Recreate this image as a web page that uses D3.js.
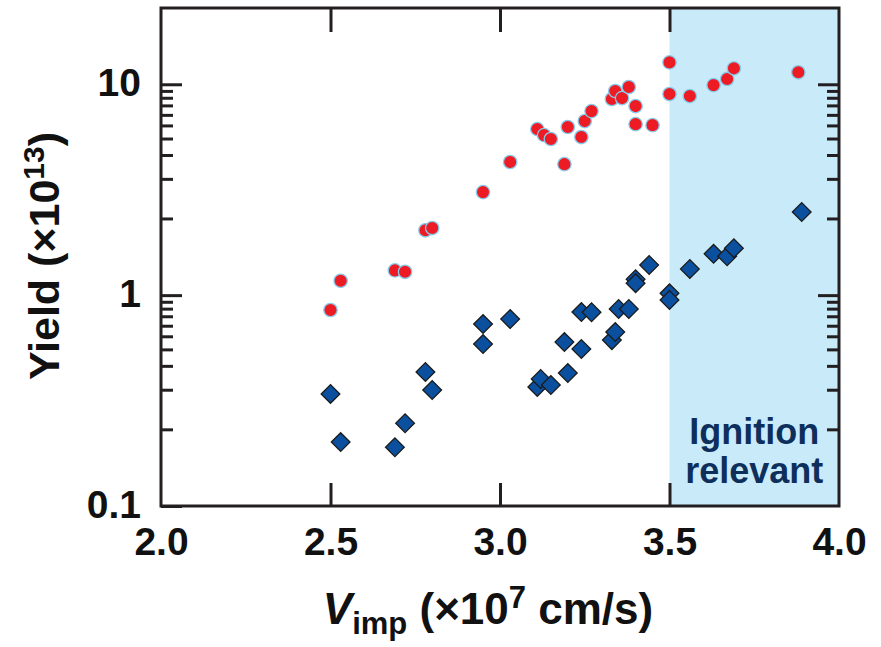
<!DOCTYPE html>
<html>
<head>
<meta charset="utf-8">
<script src="https://cdn.jsdelivr.net/npm/d3@7"></script>
<style>
  body { margin: 0; background: #fff; }
  svg { display: block; font-family: "Liberation Sans", Arial, Helvetica, sans-serif; }
</style>
</head>
<body>
<script>
// Data
const redV = [2.50, 2.53, 2.69, 2.72, 2.78, 2.80, 2.95, 3.03, 3.11, 3.13, 3.15, 3.19, 3.20, 3.24, 3.25, 3.27,
              3.33, 3.34, 3.36, 3.38, 3.40, 3.40, 3.45, 3.50, 3.50, 3.56, 3.63, 3.67, 3.69, 3.88]
const redYield = [0.85, 1.17, 1.31, 1.29, 2.03, 2.08, 3.08, 4.28, 6.13, 5.74, 5.50, 4.18, 6.27, 5.62, 6.69, 7.46,
                  8.51, 9.29, 8.60, 9.70, 7.88, 6.47, 6.40, 12.7, 8.99, 8.79, 9.91, 10.6, 11.9, 11.4]

const blueV = [2.50, 2.53, 2.69, 2.72, 2.78, 2.80, 2.95, 2.95, 3.03, 3.11, 3.12, 3.15, 3.19, 3.20, 3.24, 3.24,
               3.27, 3.33, 3.34, 3.35, 3.38, 3.40, 3.40, 3.44, 3.50, 3.50, 3.56, 3.63, 3.67, 3.69, 3.89]
const blueYield = [0.340, 0.201, 0.190, 0.247, 0.432, 0.355, 0.729, 0.586, 0.770, 0.367, 0.400, 0.375, 0.599, 0.427, 0.831, 0.555,
                   0.830, 0.612, 0.668, 0.859, 0.859, 1.19, 1.14, 1.39, 1.02, 0.948, 1.33, 1.57, 1.53, 1.67, 2.48]

const xTicks = [2.0, 2.5, 3.0, 3.5, 4.0]
const xInnerTicks = [2.5, 3.0, 3.5]
const yTicks = [0.1, 1, 10]
const yMinorTicks = [0.93, 0.863, 0.794, 0.716, 0.638, 0.553, 0.462, 0.356, 0.231,
                     9.3, 8.63, 7.94, 7.16, 6.38, 5.53, 4.62, 3.56, 2.31]
const ignitionStart = 3.5

// Layout
const W = 881, H = 647
const pLeft = 161, pRight = 839, pTop = 8, pBottom = 506
const ink = '#231f20'

const svg = d3.select('body').append('svg')
  .attr('width', W)
  .attr('height', H)

const x = d3.scaleLinear().domain([2.0, 4.0]).range([pLeft, pRight])
const y = d3.scaleLog().domain([0.1, 23]).range([pBottom, pTop])

// Ignition relevant band
svg.append('rect')
  .attr('x', x(ignitionStart))
  .attr('y', pTop)
  .attr('width', x(4.0) - x(ignitionStart))
  .attr('height', pBottom - pTop)
  .attr('fill', '#c9ebf9')

svg.append('text')
  .attr('x', (x(ignitionStart) + x(4.0)) / 2)
  .attr('y', 444)
  .attr('text-anchor', 'middle')
  .attr('font-size', 36)
  .attr('font-weight', 'bold')
  .attr('fill', '#0e2f5c')
  .selectAll('tspan')
  .data(['Ignition', 'relevant'])
  .join('tspan')
  .attr('x', (x(ignitionStart) + x(4.0)) / 2)
  .attr('dy', (d, i) => i === 0 ? 0 : 39)
  .text(d => d)

// Points
const blue = blueV.map((v, i) => ({ v: v, yld: blueYield[i] }))
const red = redV.map((v, i) => ({ v: v, yld: redYield[i] }))

svg.append('g').selectAll('path')
  .data(blue)
  .join('path')
  .attr('d', d3.symbol().type(d3.symbolSquare).size(175))
  .attr('transform', d => 'translate(' + x(d.v) + ',' + y(d.yld) + ') rotate(45)')
  .attr('fill', '#0b4f9f')
  .attr('stroke', '#1b1b1b')
  .attr('stroke-width', 1.3)

svg.append('g').selectAll('circle')
  .data(red)
  .join('circle')
  .attr('cx', d => x(d.v))
  .attr('cy', d => y(d.yld))
  .attr('r', 6.7)
  .attr('fill', '#ed1c24')
  .attr('stroke', '#86cdee')
  .attr('stroke-width', 1.3)

// Axes (ticks point inward)
function styleAxis(g, fontSize) {
  g.select('.domain').remove()
  g.selectAll('.tick line').attr('stroke', ink).attr('stroke-width', 3)
  g.selectAll('.tick text')
    .attr('fill', '#111')
    .attr('font-size', fontSize)
    .attr('font-weight', 'bold')
    .attr('font-family', '"Liberation Sans", Arial, sans-serif')
}

svg.append('g')
  .attr('transform', 'translate(0,' + pBottom + ')')
  .call(d3.axisBottom(x).tickValues(xTicks).tickSize(0).tickPadding(21).tickFormat(d3.format('.1f')))
  .call(g => styleAxis(g, 39))

svg.append('g')
  .attr('transform', 'translate(0,' + pBottom + ')')
  .call(d3.axisBottom(x).tickValues(xInnerTicks).tickSize(-23).tickFormat(''))
  .call(g => styleAxis(g, 0))

svg.append('g')
  .attr('transform', 'translate(0,' + pTop + ')')
  .call(d3.axisTop(x).tickValues(xInnerTicks).tickSize(-24).tickFormat(''))
  .call(g => styleAxis(g, 0))

svg.append('g')
  .attr('transform', 'translate(' + pLeft + ',0)')
  .call(d3.axisLeft(y).tickValues(yTicks).tickSize(-21).tickPadding(20).tickFormat(d3.format('')))
  .call(g => styleAxis(g, 39))
  .call(g => g.selectAll('.tick text').attr('dy', '0.3em'))

svg.append('g')
  .attr('transform', 'translate(' + pLeft + ',0)')
  .call(d3.axisLeft(y).tickValues(yMinorTicks).tickSize(-12).tickFormat(''))
  .call(g => styleAxis(g, 0))

svg.append('g')
  .attr('transform', 'translate(' + pRight + ',0)')
  .call(d3.axisRight(y).tickValues(yTicks.slice(1)).tickSize(-21).tickFormat(''))
  .call(g => styleAxis(g, 0))

svg.append('g')
  .attr('transform', 'translate(' + pRight + ',0)')
  .call(d3.axisRight(y).tickValues(yMinorTicks).tickSize(-12).tickFormat(''))
  .call(g => styleAxis(g, 0))

// Frame
svg.append('rect')
  .attr('x', pLeft)
  .attr('y', pTop)
  .attr('width', pRight - pLeft)
  .attr('height', pBottom - pTop)
  .attr('fill', 'none')
  .attr('stroke', ink)
  .attr('stroke-width', 3)

// Axis titles
const xTitle = svg.append('text')
  .attr('x', 488)
  .attr('y', 624)
  .attr('text-anchor', 'middle')
  .attr('font-size', 44)
  .attr('font-weight', 'bold')
  .attr('fill', '#111')
xTitle.append('tspan').attr('font-style', 'italic').text('V')
xTitle.append('tspan').attr('font-size', 31).attr('dy', 10).text('imp')
xTitle.append('tspan').attr('dy', -10).text(' (×10')
xTitle.append('tspan').attr('font-size', 31).attr('dy', -16).text('7')
xTitle.append('tspan').attr('dy', 16).text(' cm/s)')

const yTitle = svg.append('text')
  .attr('transform', 'translate(59,256) rotate(-90)')
  .attr('text-anchor', 'middle')
  .attr('font-size', 43)
  .attr('font-weight', 'bold')
  .attr('fill', '#111')
yTitle.append('tspan').text('Yield (×10')
yTitle.append('tspan').attr('font-size', 30).attr('dy', -15).text('13')
yTitle.append('tspan').attr('dy', 15).text(')')
</script>
</body>
</html>
